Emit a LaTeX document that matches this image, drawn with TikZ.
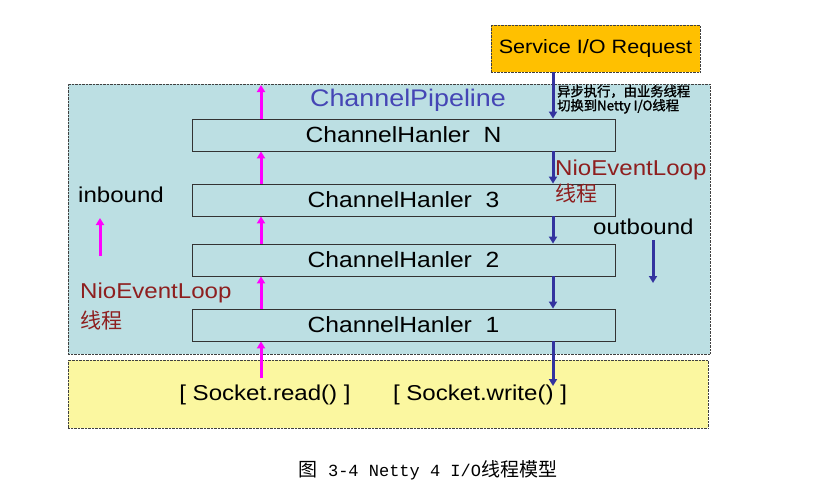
\documentclass[tikz,border=0pt]{standalone}
\usepackage{fontspec}
\usepackage{xcolor}
\usepackage{tikz}
\setmainfont{Liberation Sans}[FakeStretch=1.12]
\newfontfamily\cjk{Noto Sans CJK SC}
\newfontfamily\cjkbold{Noto Sans CJK SC}[FakeBold=1.5]
\newfontfamily\capmono{Liberation Mono}
\usetikzlibrary{positioning}
\usetikzlibrary{arrows.meta,calc}

\definecolor{pipebg}{HTML}{BCDFE3}
\definecolor{sockbg}{HTML}{FBF7A0}
\definecolor{svcbg}{HTML}{FFC000}
\definecolor{inmag}{HTML}{FF00FF}
\definecolor{outblue}{HTML}{33339F}
\definecolor{pipeblue}{HTML}{4545B5}
\definecolor{loopred}{HTML}{8E1F1F}

\begin{document}
\begin{tikzpicture}[x=1pt, y=-1pt,
    region/.style={draw=black!75, densely dotted, thin, rectangle, inner sep=0pt},
    handler/.style={draw=black!80, thick, rectangle, fill=pipebg, minimum width=423pt, minimum height=32pt, font=\fontsize{22}{24}\selectfont},
    inarrow/.style={-{Triangle[length=7pt,width=8pt]}, line width=3pt, draw=inmag},
    outarrow/.style={-{Triangle[length=7pt,width=8pt]}, line width=3pt, draw=outblue},
    lbl/.style={inner sep=0pt, anchor=west, font=\fontsize{21.5}{24}\selectfont}]
    \useasboundingbox (0,0) rectangle (816,493);

    % Regions
    \node [region, fill=pipebg, minimum width=642pt, minimum height=270pt] (pipe) at (389,219) {};
    \node [region, fill=sockbg, minimum width=640pt, minimum height=68pt] (sock) at (388,394) {};
    \node [region, fill=svcbg, minimum width=209pt, minimum height=47pt, font=\fontsize{19.3}{22}\selectfont] (svc) at (595.5,48.5) {Service I/O Request};

    % Handlers
    \node [handler] (hN) at (403.5,135) {ChannelHanler\ \ N};
    \node [handler] (h3) at (403.5,200) {ChannelHanler\ \ 3};
    \node [handler] (h2) at (403.5,260) {ChannelHanler\ \ 2};
    \node [handler] (h1) at (403.5,325) {ChannelHanler\ \ 1};

    % Labels
    \node [inner sep=0pt, text=pipeblue, font=\fontsize{24}{26}\selectfont] (pipename) at (408,100) {ChannelPipeline};
    \node [inner sep=0pt, anchor=north west, align=left, font=\cjkbold\fontsize{13.3}{14}\selectfont] (note) at (557,85) {异步执行，由业务线程\\切换到Netty I/O线程};
    \node [lbl, text=loopred] (loopR) at (555,170) {NioEventLoop};
    \node [lbl, text=loopred, font=\cjk\fontsize{21}{24}\selectfont] (threadR) at (555,193) {线程};
    \node [lbl] (outb) at (593,227) {outbound};
    \node [lbl] (inb) at (78,195) {inbound};
    \node [lbl, text=loopred] (loopL) at (80,293) {NioEventLoop};
    \node [lbl, text=loopred, font=\cjk\fontsize{21}{24}\selectfont] (threadL) at (80,320) {线程};
    \node [inner sep=0pt, font=\fontsize{21.5}{24}\selectfont] (rd) at (265,395) {[ Socket.read() ]};
    \node [inner sep=0pt, font=\fontsize{21.5}{24}\selectfont] (wr) at (480,395) {[ Socket.write() ]};
    \node [inner sep=0pt] (caption) at (428,470) {{\cjk\fontsize{19}{22}\selectfont 图}{\capmono\fontsize{17}{22}\selectfont\ 3-4 Netty 4 I/O}{\cjk\fontsize{19}{22}\selectfont 线程模型}};

    % Arrow ends
    \coordinate (inx) at (261,0);
    \coordinate (outx) at (553,0);
    \coordinate (intop) at (261,85);
    \coordinate (inbot) at (261,378);
    \coordinate (outbot) at (553,386);
    \coordinate (inbS) at (100,256);
    \coordinate (inbE) at (100,218);
    \coordinate (outbS) at (653,240);
    \coordinate (outbE) at (653,283);

    % Arrows
    \draw [inarrow] (inbot) -- (h1.south -| inx);
    \draw [inarrow] (h1.north -| inx) -- (h2.south -| inx);
    \draw [inarrow] (h2.north -| inx) -- (h3.south -| inx);
    \draw [inarrow] (h3.north -| inx) -- (hN.south -| inx);
    \draw [inarrow] (hN.north -| inx) -- (intop);
    \draw [inarrow] (inbS) -- (inbE);
    \draw [outarrow] (svc.south -| outx) -- (hN.north -| outx);
    \draw [outarrow] (hN.south -| outx) -- (h3.north -| outx);
    \draw [outarrow] (h3.south -| outx) -- (h2.north -| outx);
    \draw [outarrow] (h2.south -| outx) -- (h1.north -| outx);
    \draw [outarrow] (h1.south -| outx) -- (outbot);
    \draw [outarrow] (outbS) -- (outbE);
\end{tikzpicture}
\end{document}
